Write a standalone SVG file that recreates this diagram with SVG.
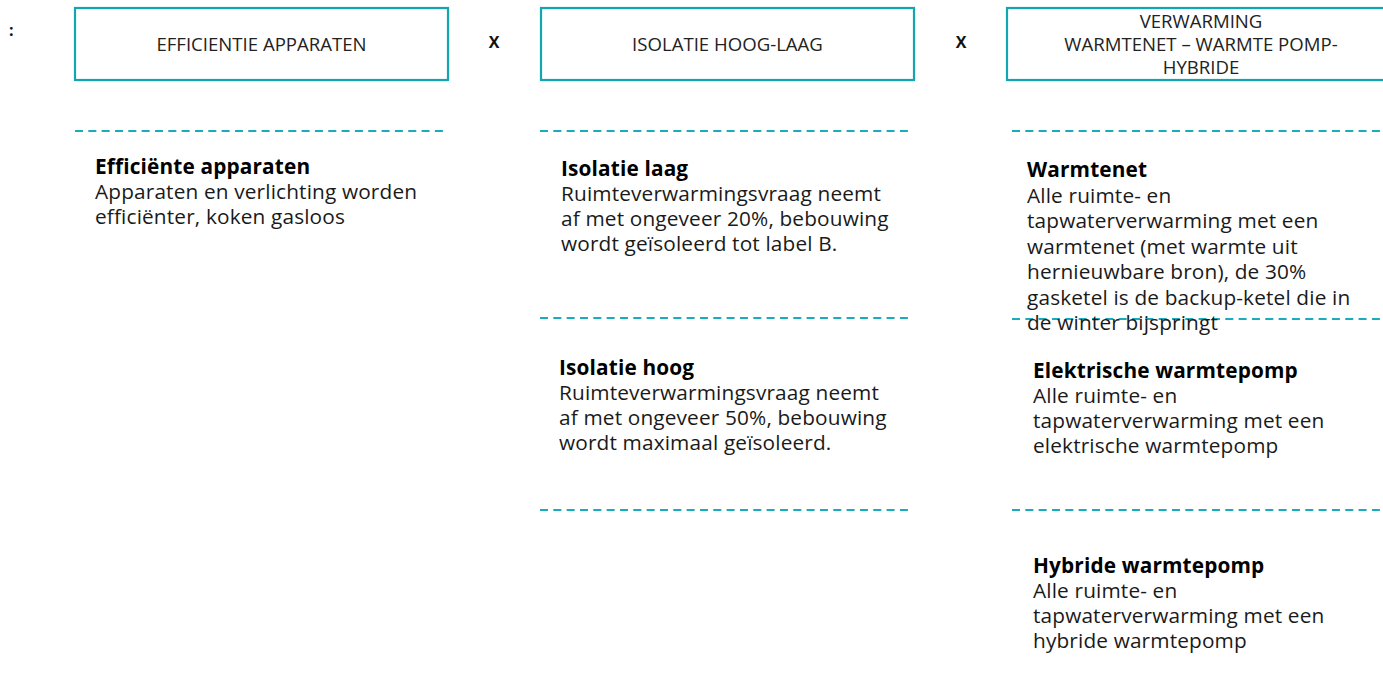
<svg xmlns="http://www.w3.org/2000/svg" width="1383" height="699" viewBox="0 0 1383 699">
<style>
.box{fill:#fff;stroke:#12A6B0;stroke-width:2.2}
.dash{stroke:#1AACBD;stroke-width:2.2;stroke-dasharray:8 5.33;fill:none}
.hd{font-family:"Open Sans","Liberation Sans",sans-serif;font-size:18.6px;fill:#222;text-anchor:middle}
.t{font-family:"Open Sans","Liberation Sans",sans-serif;font-size:20.8px;letter-spacing:0.15px;fill:#1a1a1a}
.b{font-weight:bold;fill:#000}
.x{font-family:"Open Sans","Liberation Sans",sans-serif;font-size:16px;font-weight:bold;fill:#111}
</style>
<rect width="1383" height="699" fill="#fff"/>
<g id="connectors">
<line class="dash" x1="75" y1="131" x2="448" y2="131"/>
<line class="dash" x1="540" y1="131" x2="912" y2="131"/>
<line class="dash" x1="540" y1="318" x2="912" y2="318"/>
<line class="dash" x1="540" y1="510" x2="912" y2="510"/>
<line class="dash" x1="1012" y1="131" x2="1383" y2="131"/>
<line class="dash" x1="1012" y1="319" x2="1383" y2="319"/>
<line class="dash" x1="1012" y1="510" x2="1383" y2="510"/>
</g>
<g id="ops">
<text class="x" x="9" y="36">:</text>
<text class="x" x="494" y="48" text-anchor="middle">X</text>
<text class="x" x="961" y="48" text-anchor="middle">X</text>
</g>
<g id="box1">
<rect class="box" x="75" y="8" width="373" height="72"/>
<text class="hd" x="261.5" y="51">EFFICIENTIE APPARATEN</text>
</g>
<g id="box2">
<rect class="box" x="541" y="8" width="373" height="72"/>
<text class="hd" x="727.5" y="51">ISOLATIE HOOG-LAAG</text>
</g>
<g id="box3">
<rect class="box" x="1007" y="8" width="390" height="72"/>
<text class="hd" x="1201" y="28">VERWARMING</text>
<text class="hd" x="1201" y="51">WARMTENET – WARMTE POMP-</text>
<text class="hd" x="1201" y="74">HYBRIDE</text>
</g>
<g id="efficiente">
<text class="t" x="95"><tspan class="b" x="95" y="174">Efficiënte apparaten</tspan><tspan x="95" y="199">Apparaten en verlichting worden</tspan><tspan x="95" y="224">efficiënter, koken gasloos</tspan></text>
</g>
<g id="isolatie-laag">
<text class="t"><tspan class="b" x="561" y="176">Isolatie laag</tspan><tspan x="561" y="201">Ruimteverwarmingsvraag neemt</tspan><tspan x="561" y="226">af met ongeveer 20%, bebouwing</tspan><tspan x="561" y="251">wordt geïsoleerd tot label B.</tspan></text>
</g>
<g id="isolatie-hoog">
<text class="t"><tspan class="b" x="559" y="375">Isolatie hoog</tspan><tspan x="559" y="400">Ruimteverwarmingsvraag neemt</tspan><tspan x="559" y="425">af met ongeveer 50%, bebouwing</tspan><tspan x="559" y="450">wordt maximaal geïsoleerd.</tspan></text>
</g>
<g id="warmtenet">
<text class="t"><tspan class="b" x="1027" y="177">Warmtenet</tspan><tspan x="1027" y="202.5">Alle ruimte- en</tspan><tspan x="1027" y="228">tapwaterverwarming met een</tspan><tspan x="1027" y="253.5">warmtenet (met warmte uit</tspan><tspan x="1027" y="279">hernieuwbare bron), de 30%</tspan><tspan x="1027" y="304.5">gasketel is de backup-ketel die in</tspan><tspan x="1027" y="330">de winter bijspringt</tspan></text>
</g>
<g id="elektrische">
<text class="t"><tspan class="b" x="1033" y="378">Elektrische warmtepomp</tspan><tspan x="1033" y="403">Alle ruimte- en</tspan><tspan x="1033" y="428">tapwaterverwarming met een</tspan><tspan x="1033" y="453">elektrische warmtepomp</tspan></text>
</g>
<g id="hybride">
<text class="t"><tspan class="b" x="1033" y="573">Hybride warmtepomp</tspan><tspan x="1033" y="598">Alle ruimte- en</tspan><tspan x="1033" y="623">tapwaterverwarming met een</tspan><tspan x="1033" y="648">hybride warmtepomp</tspan></text>
</g>
</svg>
